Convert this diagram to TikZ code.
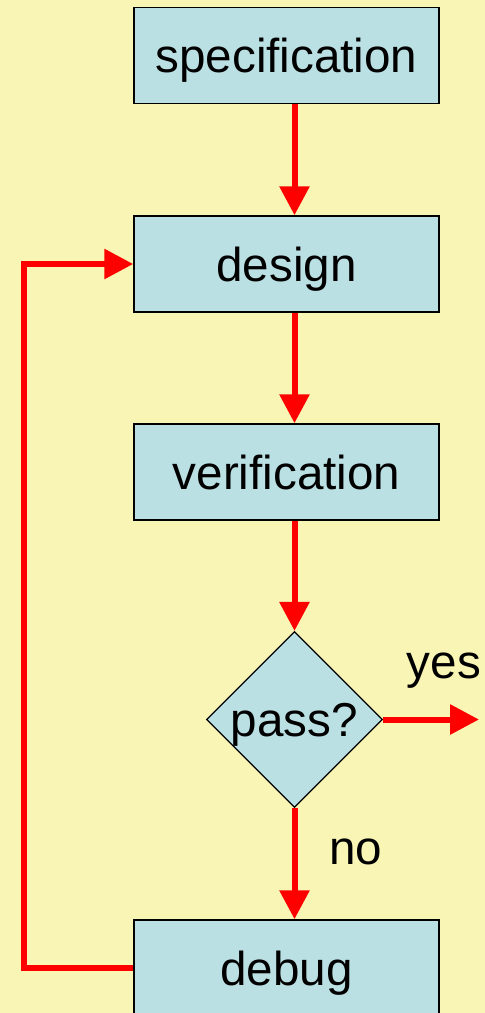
\documentclass[tikz,border=0pt]{standalone}
\usepackage{fontspec}
\setmainfont{Liberation Sans}
\usetikzlibrary{arrows.meta,shapes.geometric}
\definecolor{bgyellow}{RGB}{249,245,180}
\definecolor{boxblue}{RGB}{187,224,227}
\definecolor{arrred}{RGB}{255,0,0}
\begin{document}
\begin{tikzpicture}[x=1pt,y=-1pt,
  every node/.style={font=\fontsize{47.6pt}{57pt}\selectfont, text height=34pt, text depth=0pt, inner sep=0pt},
  stepbox/.style={draw=black, line width=1.5pt, fill=boxblue, minimum width=305pt, minimum height=96pt},
  decision/.style={diamond, aspect=1, draw=black, line width=1.2pt, fill=boxblue, minimum width=176pt, minimum height=176pt},
  flow/.style={draw=arrred, line width=6pt, line join=miter, -{Triangle[length=29pt,width=29pt]}}]
\fill[bgyellow] (0,0) rectangle (485,1013);
\useasboundingbox (0,0) rectangle (485,1013);
\node[stepbox] (spec) at (286.5,55.5) {specification};
\node[stepbox] (design) at (286.5,264) {design};
\node[stepbox] (verif) at (286.5,472) {verification};
\node[decision] (pass) at (294.5,719.5) {pass?};
\node[stepbox] (debug) at (286.5,968) {debug};
\node (yes) at (444,661) {yes};
\node (no) at (356,847) {no};
\coordinate (yesend) at (479,719.5);
\coordinate (loopx) at (24,0);
\draw[flow] (spec.south -| pass.north) -- (design.north -| pass.north);
\draw[flow] (design.south -| pass.north) -- (verif.north -| pass.north);
\draw[flow] (verif.south -| pass.north) -- (pass.north);
\draw[flow] (pass.south) -- (debug.north -| pass.south);
\draw[flow] (pass.east) -- (yesend);
\draw[flow] (debug.west) -- (debug.west -| loopx) -- (design.west -| loopx) -- (design.west);
\end{tikzpicture}
\end{document}
